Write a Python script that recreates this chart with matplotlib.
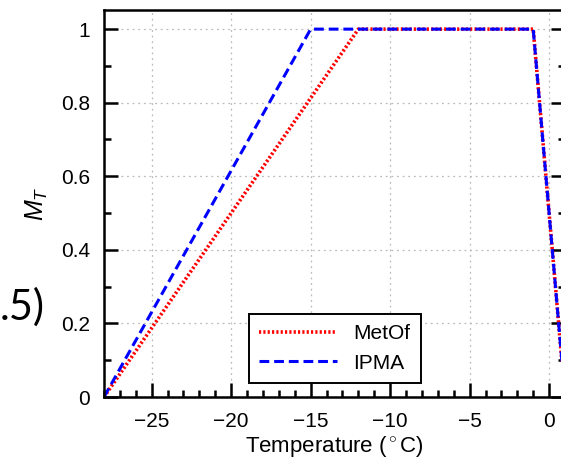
import matplotlib
matplotlib.use("Agg")
import matplotlib.pyplot as plt
from matplotlib.ticker import MultipleLocator

# Data (trapezoidal membership functions)
metof_t = [-28, -12, -1, 1]
metof_m = [0, 1, 1, 0]
ipma_t = [-28, -15, -1, 1]
ipma_m = [0, 1, 1, 0]
xticks = [-25, -20, -15, -10, -5, 0]
yticks = [0, 0.2, 0.4, 0.6, 0.8, 1]

plt.rcParams['font.family'] = ['Liberation Sans', 'DejaVu Sans']
plt.rcParams['mathtext.fontset'] = 'custom'
plt.rcParams['mathtext.it'] = 'Liberation Sans:italic'
plt.rcParams['mathtext.rm'] = 'Liberation Sans'

FS = 15

fig = plt.figure(figsize=(5.61, 4.61), dpi=100)
ax = fig.add_axes([104/561, (461-397)/461, (565-104)/561, (397-10)/461])

ax.plot(metof_t, metof_m, color='red', linestyle=(0, (0.6, 0.6)), lw=2.6, label='MetOf')
ax.plot(ipma_t, ipma_m, color='blue', linestyle=(0, (3.2, 1.6)), lw=2.2, label='IPMA')

ax.set_xlim(-28, 1)
ax.set_ylim(0, 1.052)
ax.set_xticks(xticks)
ax.set_xticklabels(['\u2212' + str(abs(t)) if t < 0 else str(t) for t in xticks])
ax.set_yticks(yticks)
ax.set_yticklabels(['0', '0.2', '0.4', '0.6', '0.8', '1'])
ax.xaxis.set_minor_locator(MultipleLocator(1))
ax.yaxis.set_minor_locator(MultipleLocator(0.1))

ax.tick_params(which='both', direction='in', top=False, right=True, width=1.8, labelsize=FS, colors='black')
ax.tick_params(which='major', length=10)
ax.tick_params(which='minor', length=5)
ax.tick_params(axis='y', pad=10)
ax.tick_params(axis='x', pad=11)

for s in ax.spines.values():
    s.set_linewidth(1.8)

ax.grid(True, which='major', color='#bbbbbb', linestyle=(0, (1.5, 3)), lw=0.9)

ax.set_xlabel('Temperature ($^\\circ$C)', fontsize=FS + 1, labelpad=2)
ax.set_ylabel('$M_T$', fontsize=18, labelpad=8)

leg = ax.legend(loc='lower left', bbox_to_anchor=((249-104)/461, (397-383)/387),
                fontsize=FS, frameon=True, fancybox=False, edgecolor='black',
                framealpha=1, handlelength=3.7, borderpad=0.5, labelspacing=0.5,
                handletextpad=0.8, borderaxespad=0)
leg.get_frame().set_linewidth(1.4)

fig.text(0, (461-307)/461, '.5)', fontsize=30, ha='left', va='center', family='Lato')

fig.savefig('out.png', dpi=100)
